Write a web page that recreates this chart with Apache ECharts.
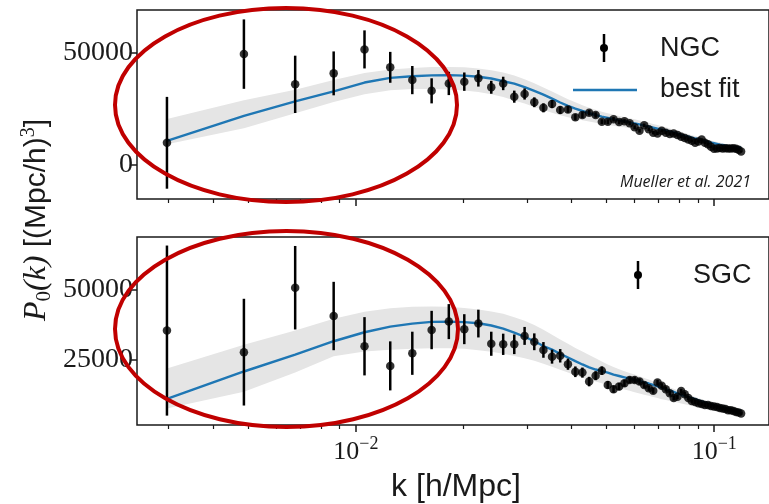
<!DOCTYPE html>
<html>
<head>
<meta charset="utf-8">
<script src="https://cdn.jsdelivr.net/npm/echarts@6/dist/echarts.min.js"></script>
<style>
  html, body { margin: 0; padding: 0; background: #ffffff; }
  #chart { width: 769px; height: 504px; }
</style>
</head>
<body>
<div id="chart"></div>
<script>
// Wavenumber bins k [h/Mpc]
const kBins = [0.00297,0.00487,0.00677,0.00867,0.01057,0.01247,0.01437,0.01627,0.01817,0.02007,
  0.02197,0.02387,0.02577,0.02767,0.02957,0.03147,0.03337,0.03527,0.03717,0.03907,
  0.04097,0.04287,0.04477,0.04667,0.04857,0.05047,0.05237,0.05427,0.05617,0.05807,
  0.05997,0.06187,0.06377,0.06567,0.06757,0.06947,0.07137,0.07327,0.07517,0.07707,
  0.07897,0.08087,0.08277,0.08467,0.08657,0.08847,0.09037,0.09227,0.09417,0.09607,
  0.09797,0.09987,0.10177,0.10367,0.10557,0.10747,0.10937,0.11127,0.11317,0.11507,
  0.11697,0.11887];

// NGC monopole measurements and 1-sigma errors
const ngcP0 = [9800,49400,35900,40800,51500,43500,37800,33000,36300,37100,
  38600,34600,36300,30400,31600,27900,25400,27100,24400,24700,
  21200,22200,23200,22200,19200,19200,20300,19100,19400,18500,
  16700,15200,17600,15800,14300,14000,15200,14300,13700,14000,
  13300,12500,11900,11300,10700,9800,10400,11300,9800,9200,
  8000,7100,7300,7500,7200,7400,7200,7300,7400,7100,
  6700,5900];
const ngcErr = [20500,15500,12800,9800,8500,6900,6300,5600,5200,4100,
  3700,2900,3000,2700,2500,2200,2000,1800,1700,1500,
  1400,1300,1200,1200,1100,1100,1000,1000,950,900,
  900,850,800,800,750,750,700,700,650,650,
  600,600,600,550,550,550,500,500,500,480,
  460,450,440,430,420,410,400,400,390,380,
  370,360];
// NGC best-fit model and its uncertainty band
const ngcFit = [10700,21800,28300,32800,36700,38800,39500,39900,40000,39800,
  39300,38500,37300,36200,34700,33000,31300,29500,27800,26300,
  25100,24000,23000,22200,21500,20900,20300,19800,19400,18900,
  18500,18000,17500,17000,16600,16100,15700,15300,14800,14400,
  13900,13400,12900,12500,12100,11700,11400,11000,10600,10200,
  9900,9600,9300,9000,8800,8500,8300,8100,7900,7800,
  7700,7600];
const ngcBandHi = [20400,28800,33500,37800,41000,42500,43200,43600,43700,43500,
  43000,42200,41200,39800,38200,36400,34500,32700,30900,29300,
  27900,26600,25500,24500,23700,23000,22400,21800,21300,20800,
  20300,19800,19200,18700,18200,17700,17200,16700,16200,15700,
  15200,14700,14100,13700,13200,12800,12400,12000,11600,11200,
  10800,10500,10200,9900,9600,9300,9100,8800,8600,8500,
  8300,8200];
const ngcBandLo = [9200,16300,23000,28000,31500,33300,33800,33800,33600,33200,
  32500,31500,30200,28700,27300,25800,24400,23200,22100,21200,
  20500,19900,19300,18700,18200,17800,17400,17000,16700,16300,
  16000,15600,15200,14800,14400,14000,13600,13300,12900,12500,
  12100,11700,11300,10900,10600,10200,9900,9600,9300,9000,
  8700,8500,8200,8000,7800,7600,7400,7300,7100,7000,
  6900,6800];

// SGC monopole measurements and 1-sigma errors
const sgcP0 = [35500,27800,50800,40700,29900,22900,27400,35700,38700,36000,
  38000,30800,30600,30600,33600,31500,28600,26200,26500,23500,
  20800,20500,17300,19400,21200,16100,14600,15500,16700,17900,
  17900,17300,16100,14900,14000,17000,15800,14600,13100,11400,
  11900,13900,12800,11400,10400,10000,9600,9300,8900,8900,
  8600,8400,8200,7900,7700,7500,7100,7100,6800,6400,
  6300,5900];
const sgcErr = [30350,19050,14900,12200,10400,8750,7700,6850,6250,5350,
  4950,4300,3800,3500,3200,3000,2800,2500,2400,2000,
  1900,1800,1700,1600,1500,1400,1300,1300,1250,1200,
  1150,1100,1050,1000,1000,950,900,900,850,850,
  800,800,750,750,700,700,680,660,640,620,
  600,580,560,550,540,530,520,510,500,490,
  480,470];
// SGC best-fit model and its uncertainty band
const sgcFit = [11100,20900,26900,31700,34900,36900,38000,38600,38700,38500,
  38100,37300,36200,34800,33300,31700,30000,28700,27200,25900,
  24600,23400,22400,21600,21000,20500,19800,19300,18800,18300,
  17900,17500,17000,16600,16100,15600,15100,14600,14100,13600,
  13100,12600,12200,11800,11400,11000,10600,10200,9900,9500,
  9200,8900,8600,8300,8100,7800,7600,7400,7200,7100,
  7000,6900];
const sgcBandHi = [22000,30400,35500,39700,42200,43500,44000,44100,44000,43600,
  43000,42300,41500,40300,39000,37500,35800,34000,32300,30800,
  29300,28000,26800,25600,24500,23400,22500,21700,21000,20400,
  19800,19200,18600,18000,17400,16800,16300,15700,15200,14700,
  14200,13700,13200,12700,12300,11800,11400,11000,10600,10200,
  9900,9500,9200,8900,8600,8300,8100,7900,7700,7500,
  7300,7200];
const sgcBandLo = [7700,13700,20500,26300,28000,28700,29000,29200,29200,29000,
  28500,27900,27200,26400,25600,24700,23700,22600,21500,20500,
  19500,18700,18000,17300,16700,16100,15500,15000,14500,14000,
  13500,13000,12600,12200,11800,11400,11000,10700,10400,10100,
  9800,9500,9200,8900,8600,8400,8100,7800,7600,7300,
  7100,6900,6700,6500,6300,6100,5900,5800,5600,5500,
  5400,5300];

// Axis ticks
const kMajorTicks = [0.01, 0.1];
const kMinorTicks = [0.003,0.004,0.005,0.006,0.007,0.008,0.009,
  0.02,0.03,0.04,0.05,0.06,0.07,0.08,0.09];
const ngcYTicks = [0, 50000];
const sgcYTicks = [25000, 50000];

const SERIF = '"Liberation Serif", "DejaVu Serif", serif';
const SANS = '"Liberation Sans", "DejaVu Sans", sans-serif';
const INK = '#1a1a1a';
const FIT_BLUE = '#1f77b4';
const BAND_GREY = '#e5e5e5';
const RING_RED = '#c00000';

const K_MIN = 0.00245, K_MAX = 0.1422;

function kAxes(gridIndex, showLabels) {
  const common = {
    type: 'log', logBase: 10, gridIndex, min: K_MIN, max: K_MAX,
    axisLine: { show: false, onZero: false }, splitLine: { show: false }, position: 'bottom'
  };
  return [
    Object.assign({}, common, {
      axisTick: { show: true, customValues: kMajorTicks, length: 7, lineStyle: { color: INK, width: 1.5 } },
      axisLabel: {
        show: showLabels, customValues: kMajorTicks, margin: 10,
        formatter: v => '{b|10}{s|\u2212' + Math.round(-Math.log10(v)) + '}',
        rich: {
          b: { fontFamily: SERIF, fontSize: 26, color: INK, lineHeight: 30, verticalAlign: 'bottom' },
          s: { fontFamily: SERIF, fontSize: 18, color: INK, lineHeight: 18, verticalAlign: 'top' }
        }
      }
    }),
    Object.assign({}, common, {
      axisTick: { show: true, customValues: kMinorTicks, length: 4, lineStyle: { color: INK, width: 1.2 } },
      axisLabel: { show: false }
    })
  ];
}

function pAxis(gridIndex, min, max, ticks) {
  return {
    type: 'value', gridIndex, min, max,
    axisLine: { show: false, onZero: false }, splitLine: { show: false },
    axisTick: { show: true, customValues: ticks, length: 6, lineStyle: { color: INK, width: 1.5 } },
    axisLabel: { customValues: ticks, fontFamily: SERIF, fontSize: 28, color: INK, margin: 4,
                 formatter: v => String(v) }
  };
}

function panelSeries(xi, yi, p0, err, fit, hi, lo) {
  return [
    {
      // uncertainty band of the model, drawn as one closed polygon
      type: 'custom', xAxisIndex: xi, yAxisIndex: yi, z: 1, silent: true,
      encode: { x: 0, y: 1 },
      data: kBins.map((k, i) => [k, lo[i], hi[i]]),
      renderItem: (params, api) => {
        if (params.dataIndex !== 0) return null;
        const upper = kBins.map((k, i) => api.coord([k, hi[i]]));
        const lower = kBins.map((k, i) => api.coord([k, lo[i]])).reverse();
        return { type: 'polygon', shape: { points: upper.concat(lower) },
                 style: { fill: BAND_GREY, stroke: null } };
      }
    },
    {
      type: 'line', xAxisIndex: xi, yAxisIndex: yi, symbol: 'none', z: 2,
      lineStyle: { color: FIT_BLUE, width: 2.4 },
      data: kBins.map((k, i) => [k, fit[i]])
    },
    {
      type: 'custom', xAxisIndex: xi, yAxisIndex: yi, z: 3,
      encode: { x: 0, y: 1 },
      data: kBins.map((k, i) => [k, p0[i], err[i]]),
      renderItem: (params, api) => {
        const k = api.value(0), v = api.value(1), e = api.value(2);
        const a = api.coord([k, v - e]);
        const b = api.coord([k, v + e]);
        return { type: 'line', shape: { x1: a[0], y1: a[1], x2: b[0], y2: b[1] },
                 style: { stroke: '#000', lineWidth: 2.5 } };
      }
    },
    {
      type: 'scatter', xAxisIndex: xi, yAxisIndex: yi, z: 4,
      symbol: 'circle', symbolSize: 8.5,
      itemStyle: { color: '#000' },
      data: kBins.map((k, i) => [k, p0[i]])
    }
  ];
}

function errIcon(x, y) {
  return [
    { type: 'line', shape: { x1: x, y1: y - 14, x2: x, y2: y + 14 }, style: { stroke: '#000', lineWidth: 2.5 }, z: 50 },
    { type: 'circle', shape: { cx: x, cy: y, r: 4 }, style: { fill: '#000' }, z: 50 }
  ];
}

const chart = echarts.init(document.getElementById('chart'), null, { renderer: 'canvas' });
chart.setOption({
  animation: false,
  backgroundColor: '#ffffff',
  grid: [
    { left: 137, top: 10, height: 189, right: -4, show: true, borderColor: INK, borderWidth: 1.5 },
    { left: 137, top: 237, height: 188, right: -4, show: true, borderColor: INK, borderWidth: 1.5 }
  ],
  xAxis: [].concat(kAxes(0, false), kAxes(1, true)),
  yAxis: [
    pAxis(0, -15300, 69100, ngcYTicks),
    pAxis(1, 1800, 68900, sgcYTicks)
  ],
  series: [].concat(
    panelSeries(0, 0, ngcP0, ngcErr, ngcFit, ngcBandHi, ngcBandLo),
    panelSeries(2, 1, sgcP0, sgcErr, sgcFit, sgcBandHi, sgcBandLo)
  ),
  graphic: [].concat(
    errIcon(604, 48),
    [
      { type: 'text', x: 660, y: 49, z: 50,
        style: { text: 'NGC', fontFamily: SANS, fontSize: 27, fill: INK, align: 'left', verticalAlign: 'middle' } },
      { type: 'line', shape: { x1: 573, y1: 90, x2: 637, y2: 90 }, style: { stroke: FIT_BLUE, lineWidth: 2.4 }, z: 50 },
      { type: 'text', x: 660, y: 90, z: 50,
        style: { text: 'best fit', fontFamily: SANS, fontSize: 27, fill: INK, align: 'left', verticalAlign: 'middle' } },
      { type: 'text', x: 751, y: 182, z: 50,
        style: { text: 'Mueller et al. 2021', fontFamily: '"Open Sans", sans-serif', fontStyle: 'italic',
                 fontSize: 16, fill: INK, align: 'right', verticalAlign: 'middle' } }
    ],
    errIcon(638, 275),
    [
      { type: 'text', x: 693, y: 276, z: 50,
        style: { text: 'SGC', fontFamily: SANS, fontSize: 27, fill: INK, align: 'left', verticalAlign: 'middle' } },
      { type: 'text', x: 456, y: 487, z: 50,
        style: { text: 'k [h/Mpc]', fontFamily: SANS, fontSize: 32, fill: INK, align: 'center', verticalAlign: 'middle' } },
      { type: 'text', x: 37, y: 220, rotation: Math.PI / 2, z: 50,
        style: {
          text: '{m|P}{sub|0}{m|(}{m|k}{m|)}{t| [(Mpc/h)}{sup|3}{t|]}',
          align: 'center', verticalAlign: 'middle',
          rich: {
            m: { fontFamily: SERIF, fontStyle: 'italic', fontSize: 32, fill: INK, lineHeight: 36 },
            sub: { fontFamily: SERIF, fontSize: 21, fill: INK, lineHeight: 21, verticalAlign: 'bottom' },
            t: { fontFamily: SANS, fontSize: 30, fill: INK, lineHeight: 36 },
            sup: { fontFamily: SERIF, fontSize: 20, fill: INK, lineHeight: 20, verticalAlign: 'top' }
          }
        } },
      { type: 'ellipse', shape: { cx: 286, cy: 105, rx: 171, ry: 97 },
        style: { fill: null, stroke: RING_RED, lineWidth: 4 }, z: 100 },
      { type: 'ellipse', shape: { cx: 286.5, cy: 329, rx: 171.5, ry: 98 },
        style: { fill: null, stroke: RING_RED, lineWidth: 4 }, z: 100 }
    ]
  )
});
</script>
</body>
</html>
